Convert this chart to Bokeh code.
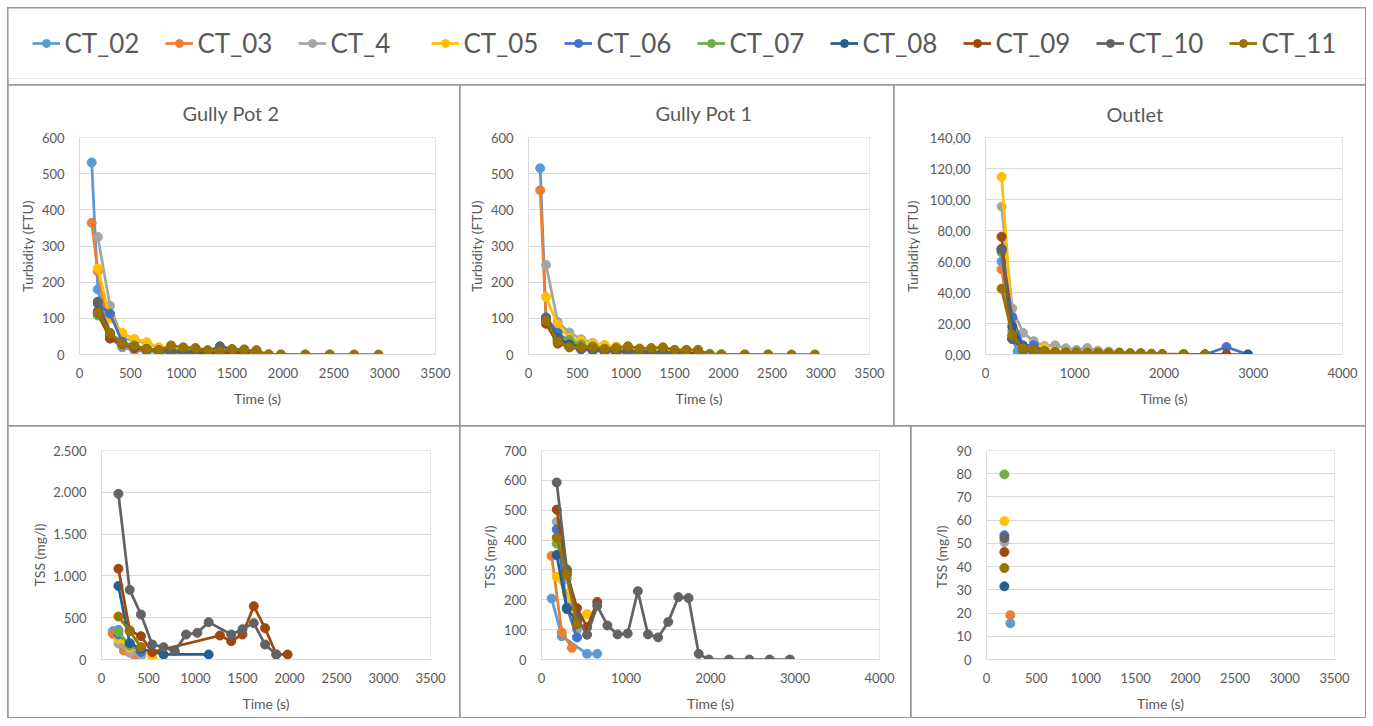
from bokeh.plotting import figure
from bokeh.models import Range1d, FixedTicker, Legend, LegendItem
from bokeh.layouts import column, row
from bokeh.embed import file_html
from bokeh.resources import INLINE

SERIES = ["CT_02", "CT_03", "CT_4", "CT_05", "CT_06", "CT_07", "CT_08", "CT_09", "CT_10", "CT_11"]
COLORS = ["#5B9BD5", "#ED7D31", "#A5A5A5", "#FFC000", "#4472C4", "#70AD47", "#255E91", "#9E480E", "#636363", "#997300"]

# ---------------- Turbidity, Gully Pot 2 ----------------
GP2_TURB = {
    "CT_02": ([120, 180, 300, 420, 540, 660, 780, 900, 1020, 1140, 1260, 1380, 1500, 1620],
              [531, 180, 45, 20, 12, 8, 6, 5, 4, 4, 3, 3, 2, 2]),
    "CT_03": ([120, 180, 300, 420, 540, 660, 780, 900, 1020, 1140, 1260, 1380, 1500, 1620, 1740],
              [364, 230, 48, 25, 15, 12, 10, 9, 8, 7, 6, 5, 5, 4, 4]),
    "CT_4": ([180, 300, 420, 540, 660, 780, 900, 1020, 1140, 1260, 1380, 1500, 1620, 1740],
             [325, 135, 45, 38, 32, 18, 16, 14, 12, 10, 9, 8, 7, 6]),
    "CT_05": ([180, 300, 420, 540, 660, 780, 900, 1020, 1140, 1260, 1380, 1500, 1620, 1740],
              [238, 100, 60, 43, 34, 20, 18, 16, 14, 12, 10, 9, 8, 7]),
    "CT_06": ([180, 300, 420, 540, 660, 780, 900, 1020, 1140, 1260, 1380, 1500, 1620],
              [140, 113, 35, 22, 12, 10, 8, 7, 6, 5, 5, 4, 4]),
    "CT_07": ([180, 300, 420, 540, 660, 780, 900, 1020, 1140, 1260, 1380, 1500, 1620, 1740, 1860, 1980, 2220, 2460],
              [108, 50, 28, 20, 14, 11, 9, 8, 7, 6, 5, 4, 3, 2, 1, 0, 0, 0]),
    "CT_08": ([180, 300, 420, 540, 660, 780, 900, 1020, 1140, 1260, 1380, 1500, 1620],
              [120, 55, 30, 20, 14, 10, 8, 7, 6, 5, 5, 4, 4]),
    "CT_09": ([180, 300, 420, 540, 660, 780, 900, 1020, 1140, 1260, 1380, 1500, 1620, 1740],
              [115, 44, 28, 18, 14, 12, 10, 9, 8, 7, 6, 6, 5, 12]),
    "CT_10": ([180, 300, 420, 540, 660, 780, 900, 1020, 1140, 1260, 1380, 1500, 1620],
              [146, 60, 30, 22, 16, 12, 10, 10, 9, 9, 23, 15, 14]),
    "CT_11": ([180, 300, 420, 540, 660, 780, 900, 1020, 1140, 1260, 1380, 1500, 1620, 1740, 1860, 1980, 2220, 2460, 2700, 2940],
              [116, 59, 30, 25, 15, 12, 25, 20, 18, 12, 8, 14, 12, 10, 0, 0, 0, 0, 0, 0]),
}

# ---------------- Turbidity, Gully Pot 1 ----------------
GP1_TURB = {
    "CT_02": ([120, 180, 300, 420, 540, 660, 780, 900, 1020, 1140, 1260, 1380, 1500, 1620],
              [515, 100, 40, 25, 15, 10, 8, 6, 5, 4, 3, 3, 2, 2]),
    "CT_03": ([120, 180, 300, 420, 540, 660, 780, 900, 1020, 1140, 1260, 1380, 1500, 1620, 1740],
              [454, 95, 35, 22, 15, 12, 10, 8, 7, 6, 5, 4, 4, 3, 3]),
    "CT_4": ([180, 300, 420, 540, 660, 780, 900, 1020, 1140, 1260, 1380, 1500, 1620],
             [248, 90, 61, 42, 32, 25, 20, 18, 15, 12, 10, 9, 8]),
    "CT_05": ([180, 300, 420, 540, 660, 780, 900, 1020, 1140, 1260, 1380, 1500, 1620],
              [159, 82, 45, 38, 30, 26, 22, 20, 17, 15, 13, 11, 10]),
    "CT_06": ([180, 300, 420, 540, 660, 780, 900, 1020, 1140, 1260, 1380, 1500, 1620],
              [103, 60, 35, 25, 18, 14, 11, 9, 8, 6, 5, 4, 4]),
    "CT_07": ([180, 300, 420, 540, 660, 780, 900, 1020, 1140, 1260, 1380, 1500, 1620, 1740, 1860, 1980, 2220, 2460],
              [92, 45, 40, 28, 20, 15, 12, 10, 8, 7, 6, 5, 4, 3, 2, 1, 0, 0]),
    "CT_08": ([180, 300, 420, 540, 660, 780, 900, 1020, 1140, 1260, 1380, 1500, 1620],
              [98, 45, 28, 20, 15, 12, 10, 8, 7, 6, 5, 4, 3]),
    "CT_09": ([180, 300, 420, 540, 660, 780, 900, 1020, 1140, 1260, 1380, 1500, 1620, 1740],
              [85, 30, 22, 16, 12, 10, 9, 8, 7, 6, 5, 5, 4, 4]),
    "CT_10": ([180, 300, 420, 540, 660, 780, 900, 1020, 1140, 1260, 1380, 1500, 1620],
              [100, 40, 20, 14, 12, 10, 9, 8, 8, 7, 6, 6, 5]),
    "CT_11": ([180, 300, 420, 540, 660, 780, 900, 1020, 1140, 1260, 1380, 1500, 1620, 1740, 1860, 1980, 2220, 2460, 2700, 2940],
              [93, 35, 20, 20, 22, 16, 18, 23, 16, 18, 20, 13, 13, 13, 0, 0, 0, 0, 0, 0]),
}

# ---------------- Turbidity, Outlet ----------------
OUT_TURB = {
    "CT_02": ([180, 300, 360, 420, 540, 660, 780, 900],
              [60, 10, 2, 1.5, 1, 1, 0.8, 0.5]),
    "CT_03": ([180, 300, 420, 540, 660, 780, 900, 1020, 1140, 1260, 1380],
              [55, 12, 4, 2, 1.5, 1, 1, 0.8, 0.5, 0.5, 0.5]),
    "CT_4": ([180, 300, 420, 540, 660, 780, 900, 1020, 1140, 1260, 1380, 1500, 1620, 1740],
             [95.4, 29.8, 14, 8.6, 5.5, 5.9, 4, 3, 4.2, 2.5, 2, 1.5, 1, 1]),
    "CT_05": ([180, 300, 420, 540, 660, 780, 900, 1020, 1140, 1260, 1380, 1500, 1620],
              [114.6, 20, 5, 3, 4.6, 2, 1.5, 1, 1, 1, 0.8, 0.5, 0.5]),
    "CT_06": ([180, 300, 420, 540, 660, 780, 900, 1020, 1140, 1260, 1380, 1500, 1620, 1740, 1860, 1980, 2220, 2460, 2700, 2940],
              [68, 24, 6, 5.9, 2, 1.5, 1, 1, 1, 0.8, 0.5, 0.5, 0.5, 0.5, 0.3, 0.2, 0.1, 0, 4.8, 0]),
    "CT_07": ([180, 300, 420, 540, 660, 780, 900, 1020, 1140, 1260, 1380, 1500, 1620, 1740, 1860, 1980, 2220, 2460],
              [66, 15, 5, 3, 2, 1.5, 1, 1, 0.8, 0.5, 0.5, 0.5, 0.3, 0.2, 0.1, 0, 0, 0]),
    "CT_08": ([180, 300, 420, 540, 660, 780, 900, 1020, 1140, 1260, 1380, 1500, 1620, 1740, 1860, 1980, 2220, 2460, 2700, 2940],
              [68, 18, 5, 3, 2, 1.5, 1, 1, 0.8, 0.5, 0.5, 0.3, 0.3, 0.2, 0.1, 0, 0, 0, 0, 0]),
    "CT_09": ([180, 300, 420, 540, 660, 780, 900, 1020, 1140, 1260, 1380, 1500, 1620, 1740, 1860, 1980, 2220, 2460, 2700],
              [76, 10, 4, 3, 2, 1.5, 1, 1, 0.8, 0.5, 0.5, 0.5, 0.3, 0.2, 0.1, 0, 0, 0, 0]),
    "CT_10": ([180, 300, 420, 540, 660, 780, 900, 1020, 1140, 1260, 1380, 1500, 1620],
              [67.5, 10, 3, 2, 1.5, 1, 1, 0.8, 0.5, 0.5, 0.3, 0.3, 0.2]),
    "CT_11": ([180, 300, 420, 540, 660, 780, 900, 1020, 1140, 1260, 1380, 1500, 1620, 1740, 1860, 1980, 2220, 2460],
              [42.5, 12.6, 4, 3, 2, 1.5, 1.5, 1.5, 1.2, 1.2, 1, 1, 0.8, 0.8, 0.5, 0.3, 0.2, 0]),
}

# ---------------- TSS, Gully Pot 2 ----------------
GP2_TSS = {
    "CT_02": ([120, 180, 240, 360, 420], [339, 355, 110, 60, 45]),
    "CT_03": ([120, 240, 360], [307, 108, 40]),
    "CT_4": ([180, 300, 420], [190, 80, 48]),
    "CT_05": ([180, 300, 420, 540], [247, 140, 108, 28]),
    "CT_06": ([180, 300, 420], [300, 187, 90]),
    "CT_07": ([180, 300, 420], [327, 167, 128]),
    "CT_08": ([180, 300, 420, 660, 1140], [880, 195, 128, 60, 60]),
    "CT_09": ([180, 300, 420, 540, 1260, 1380, 1500, 1620, 1740, 1860, 1980],
              [1085, 347, 279, 88, 287, 219, 299, 638, 375, 60, 60]),
    "CT_10": ([180, 300, 420, 540, 660, 780, 900, 1020, 1140, 1380, 1500, 1620, 1740, 1860],
              [1982, 833, 538, 179, 148, 100, 299, 319, 447, 299, 363, 435, 179, 60]),
    "CT_11": ([180, 300, 420], [514, 339, 148]),
}

# ---------------- TSS, Gully Pot 1 ----------------
GP1_TSS = {
    "CT_02": ([120, 240, 540, 660], [204, 78, 19, 19]),
    "CT_03": ([120, 240, 360], [347, 91, 39]),
    "CT_4": ([180, 300, 420], [461, 270, 100]),
    "CT_05": ([180, 300, 420, 540], [277, 220, 120, 152]),
    "CT_06": ([180, 300, 420], [436, 175, 74]),
    "CT_07": ([180, 300, 420], [388, 302, 140]),
    "CT_08": ([180, 300, 420], [350, 169, 130]),
    "CT_09": ([180, 300, 420, 540, 660], [502, 290, 172, 108, 193]),
    "CT_10": ([180, 300, 420, 540, 660, 780, 900, 1020, 1140, 1260, 1380, 1500, 1620, 1740, 1860, 1980, 2220, 2460, 2700, 2940],
              [593, 300, 140, 83, 180, 114, 84, 87, 229, 84, 74, 126, 209, 206, 19, 0, 0, 0, 0, 0]),
    "CT_11": ([180, 300, 420], [408, 283, 117]),
}

# ---------------- TSS, Outlet ----------------
OUT_TSS = {
    "CT_02": ([240], [15.6]),
    "CT_03": ([240], [19.1]),
    "CT_4": ([180], [50.6]),
    "CT_05": ([180], [59.6]),
    "CT_06": ([180], [53.5]),
    "CT_07": ([180], [79.7]),
    "CT_08": ([180], [31.5]),
    "CT_09": ([180], [46.3]),
    "CT_10": ([180], [52.3]),
    "CT_11": ([180], [39.4]),
}

TXT = "#595959"
GRID = "#d9d9d9"
FONT = "Lato"
LW = 2.75
MS = 9


def panel(data, w, h, xmax, xstep, ymax, ystep, ylabel, borders, title=None,
          title_off=0, title_standoff=26, ylab_standoff=3, overrides=None):
    bl, br, bt, bb = borders
    p = figure(width=w, height=h, x_range=Range1d(0, xmax), y_range=Range1d(0, ymax),
               output_backend="svg", toolbar_location=None, title=title,
               min_border_left=bl, min_border_right=br, min_border_top=bt, min_border_bottom=bb)
    if title is not None:
        p.title.align = "left"
        p.title.offset = title_off
        p.title.text_font = FONT
        p.title.text_font_size = "20px"
        p.title.text_font_style = "normal"
        p.title.text_color = TXT
        p.title.standoff = title_standoff
    p.outline_line_color = None
    p.background_fill_color = "white"
    p.border_fill_color = "white"
    p.xgrid.visible = False
    p.ygrid.grid_line_color = GRID
    p.ygrid.grid_line_width = 1
    p.xaxis.ticker = FixedTicker(ticks=list(range(0, xmax + 1, xstep)))
    p.yaxis.ticker = FixedTicker(ticks=list(range(0, ymax + 1, ystep)))
    if overrides:
        p.yaxis.major_label_overrides = overrides
    for ax in (p.xaxis[0], p.yaxis[0]):
        ax.major_tick_line_color = None
        ax.minor_tick_line_color = None
        ax.axis_line_color = GRID
        ax.major_label_text_color = TXT
        ax.major_label_text_font = FONT
        ax.major_label_text_font_size = "13px"
        ax.axis_label_text_color = TXT
        ax.axis_label_text_font = FONT
        ax.axis_label_text_font_size = "14px"
        ax.axis_label_text_font_style = "normal"
    p.xaxis.axis_label = "Time (s)"
    p.xaxis.major_label_standoff = 7
    p.xaxis.axis_label_standoff = 9
    p.yaxis.axis_label = ylabel
    p.yaxis.major_label_standoff = 9
    p.yaxis.axis_label_standoff = ylab_standoff
    for name, c in zip(SERIES, COLORS):
        xs, ys = data[name]
        p.line(xs, ys, line_color=c, line_width=LW)
        p.scatter(xs, ys, size=MS, fill_color=c, line_color=c)
    return p


# legend strip (renderers carry no visible data, they only feed the legend)
NAN = float("nan")
lg = figure(width=1357, height=76, output_backend="svg", toolbar_location=None,
            x_axis_location=None, y_axis_location=None, min_border=0, min_border_bottom=6,
            x_range=Range1d(0, 1), y_range=Range1d(0, 1))
lg.grid.visible = False
lg.outline_line_color = None
items = []
for name, c in zip(SERIES, COLORS):
    r1 = lg.line(x=[NAN], y=[NAN], line_color=c, line_width=LW)
    r2 = lg.scatter(x=[NAN], y=[NAN], size=MS, fill_color=c, line_color=c)
    items.append(LegendItem(label=name, renderers=[r1, r2]))
leg = Legend(items=items, orientation="horizontal", location="center",
             label_text_font=FONT, label_text_font_size="26px", label_text_color=TXT,
             glyph_width=28, glyph_height=20, label_standoff=5, spacing=20, label_width=80,
             border_line_color=None, background_fill_alpha=0, padding=0, margin=0)
lg.add_layout(leg)

out_over = {v: f"{v},00" for v in range(0, 141, 20)}
tss_over = {0: "0", 500: "500", 1000: "1.000", 1500: "1.500", 2000: "2.000", 2500: "2.500"}

p1 = panel(GP2_TURB, 451, 340, 3500, 500, 600, 100, "Turbidity (FTU)", (71, 24, 49, 71),
           title="Gully Pot 2", title_off=103, title_standoff=26, ylab_standoff=3)
p2 = panel(GP1_TURB, 433, 340, 3500, 500, 600, 100, "Turbidity (FTU)", (68, 24, 49, 71),
           title="Gully Pot 1", title_off=127, title_standoff=26, ylab_standoff=3)
p3 = panel(OUT_TURB, 471, 340, 4000, 1000, 140, 20, "Turbidity (FTU)", (91, 23, 47, 71),
           title="Outlet", title_off=121, title_standoff=24, ylab_standoff=6, overrides=out_over)
p4 = panel(GP2_TSS, 451, 291, 3500, 500, 2500, 500, "TSS (mg/l)", (93, 29, 24, 58),
           ylab_standoff=2, overrides=tss_over)
p5 = panel(GP1_TSS, 450, 291, 4000, 1000, 700, 100, "TSS  (mg/l)", (81, 31, 23, 58),
           ylab_standoff=3)
p6 = panel(OUT_TSS, 454, 291, 3500, 500, 90, 10, "TSS  (mg/l)", (75, 31, 24, 58),
           ylab_standoff=3)

top = row(p1, p2, p3, spacing=1)
bot = row(p4, p5, p6, spacing=1)
layout = column(lg, top, bot, spacing=1,
                styles={"background-color": "#999999", "padding": "1px",
                        "margin-left": "7px", "margin-top": "7px"})

open("out.html", "w").write(file_html(layout, INLINE))
